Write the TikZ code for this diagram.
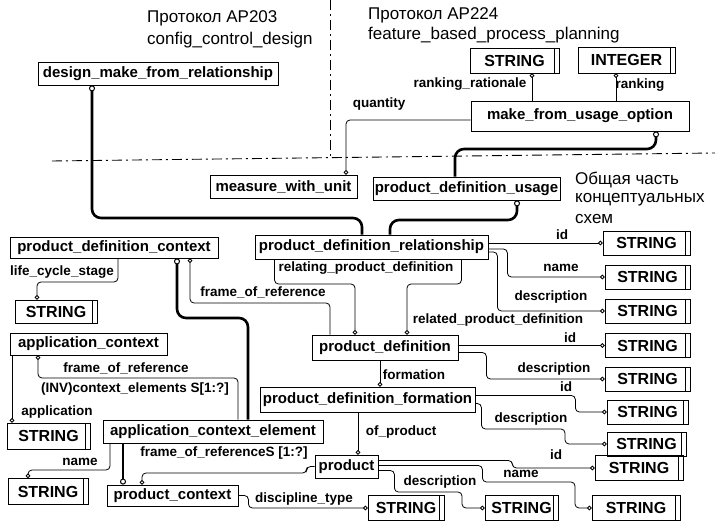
\documentclass[tikz,border=0pt]{standalone}
\usepackage{fontspec}
\setmainfont{Liberation Sans}
\usetikzlibrary{arrows.meta}
\begin{document}
\begin{tikzpicture}[x=1pt,y=-1pt,
 ent/.style={draw=black, line width=0.8pt, inner sep=0pt, font=\bfseries\fontsize{15}{17}\selectfont},
 stype/.style={ent, font=\bfseries\fontsize{16}{18}\selectfont, path picture={\draw[line width=0.8pt] ([xshift=-5pt]path picture bounding box.north east) -- ([xshift=-5pt]path picture bounding box.south east);}},
 lbl/.style={inner sep=0pt, font=\bfseries\fontsize{13.5}{15}\selectfont},
 head/.style={anchor=west, inner sep=0pt, font=\fontsize{17}{20}\selectfont},
 rel/.style={line width=0.8pt, rounded corners=4pt, -{Circle[open,length=4.5pt,line width=0.8pt]}},
 sup/.style={line width=2.6pt, rounded corners=9pt, -{Circle[open,length=6pt,line width=1pt]}},
 sep/.style={line width=0.9pt, dash pattern=on 10pt off 4pt on 2pt off 4pt}
]
\fill[white] (0,0) rectangle (715,529);
\useasboundingbox (0,0) rectangle (715,529);

% separators
\draw[sep] (52,161) -- (715,153);
\draw[sep] (330,0) -- (330,157);

% headings
\node[head] (h1) at (147,18) {Протокол AP203};
\node[head] (h2) at (147,40) {config\_control\_design};
\node[head] (h3) at (368,15) {Протокол AP224};
\node[head] (h4) at (368,35) {feature\_based\_process\_planning};
\node[head] (h5) at (575,180) {Общая часть};
\node[head] (h6) at (575,200) {концептуальных};
\node[head] (h7) at (575,219) {схем};

% entities
\node[ent, minimum width=240pt, minimum height=23pt] (dmfr) at (158,73.5) {design\_make\_from\_relationship};
\node[ent, minimum width=218pt, minimum height=30pt] (mfuo) at (580,116) {make\_from\_usage\_option};
\node[ent, minimum width=147pt, minimum height=23pt] (mwu) at (283.5,186.5) {measure\_with\_unit};
\node[ent, minimum width=187pt, minimum height=23pt] (pdu) at (466.5,188.5) {product\_definition\_usage};
\node[ent, minimum width=208pt, minimum height=21pt] (pdc) at (114,247.5) {product\_definition\_context};
\node[ent, minimum width=233pt, minimum height=24pt] (pdr) at (371.5,247) {product\_definition\_relationship};
\node[ent, minimum width=157pt, minimum height=22pt] (ac) at (88.5,344) {application\_context};
\node[ent, minimum width=146pt, minimum height=25pt] (pd) at (385,347.5) {product\_definition};
\node[ent, minimum width=215pt, minimum height=25pt] (pdf) at (367.5,399.5) {product\_definition\_formation};
\node[ent, minimum width=220pt, minimum height=23pt] (ace) at (213,431.5) {application\_context\_element};
\node[ent, minimum width=63pt, minimum height=23pt] (prod) at (346.5,466.5) {product};
\node[ent, minimum width=131pt, minimum height=21pt] (pc) at (172.5,495.5) {product\_context};

% simple types
\node[stype, minimum width=89pt, minimum height=25pt] (sTop) at (514.5,60.5) {STRING};
\node[stype, minimum width=97pt, minimum height=26pt] (iTop) at (626.5,60) {INTEGER};
\node[stype, minimum width=82pt, minimum height=23pt] (sL1) at (56,311.5) {STRING};
\node[stype, minimum width=83pt, minimum height=26pt] (sL2) at (48.5,436) {STRING};
\node[stype, minimum width=80pt, minimum height=26pt] (sL3) at (48,491.5) {STRING};
\node[stype, minimum width=87pt, minimum height=24pt] (sR1) at (646.5,243) {STRING};
\node[stype, minimum width=85pt, minimum height=24pt] (sR2) at (647.5,277) {STRING};
\node[stype, minimum width=85pt, minimum height=24pt] (sR3) at (647.5,311) {STRING};
\node[stype, minimum width=85pt, minimum height=24pt] (sR4) at (647.5,345.5) {STRING};
\node[stype, minimum width=85pt, minimum height=24pt] (sR5) at (647.5,379) {STRING};
\node[stype, minimum width=81pt, minimum height=24pt] (sR6) at (647.5,412) {STRING};
\node[stype, minimum width=79pt, minimum height=24pt] (sR7) at (646.5,444) {STRING};
\node[stype, minimum width=88pt, minimum height=25pt] (sR8) at (639,468) {STRING};
\node[stype, minimum width=76pt, minimum height=25pt] (sB1) at (406,508) {STRING};
\node[stype, minimum width=73pt, minimum height=25pt] (sB2) at (521.5,508) {STRING};
\node[stype, minimum width=88pt, minimum height=25pt] (sB3) at (636,508) {STRING};

% labels
\node[lbl] (l1) at (470,84) {ranking\_rationale};
\node[lbl] (l2) at (640,85) {ranking};
\node[lbl] (l3) at (379,104) {quantity};
\node[lbl] (l4) at (562,235) {id};
\node[lbl] (l5) at (62,272) {life\_cycle\_stage};
\node[lbl] (l6) at (366,268) {relating\_product\_definition};
\node[lbl] (l7) at (561,268) {name};
\node[lbl] (l8) at (263,292) {frame\_of\_reference};
\node[lbl] (l9) at (551,297) {description};
\node[lbl] (l10) at (498,320) {related\_product\_definition};
\node[lbl] (l11) at (570,338) {id};
\node[lbl] (l12) at (126,368) {frame\_of\_reference};
\node[lbl] (l13) at (414,375) {formation};
\node[lbl] (l14) at (554,369) {description};
\node[lbl] (l15) at (135,389) {(INV)context\_elements S[1:?]};
\node[lbl] (l16) at (566,387) {id};
\node[lbl] (l17) at (57,412) {application};
\node[lbl] (l18) at (531,419) {description};
\node[lbl] (l19) at (401,432) {of\_product};
\node[lbl] (l20) at (224,453) {frame\_of\_referenceS [1:?]};
\node[lbl] (l21) at (556,455) {id};
\node[lbl] (l22) at (80,462) {name};
\node[lbl] (l23) at (521,474) {name};
\node[lbl] (l24) at (440,482) {description};
\node[lbl] (l25) at (304,499) {discipline\_type};

% supertype/subtype (thick)
\draw[sup] ([xshift=-9.5pt]pdr.north) |- (92,218) -- ([xshift=-66pt]dmfr.south);
\draw[sup] ([xshift=18.5pt]pdr.north) |- (517,220) -- ([xshift=50.5pt]pdu.south);
\draw[sup] ([xshift=-11.5pt]pdu.north) |- (656,149) -- ([xshift=76pt]mfuo.south);
\draw[sup] ([xshift=35pt]ace.north) |- (177,318) -- ([xshift=63pt]pdc.south);
\draw[sup] ([xshift=-90pt]ace.south) -- ([xshift=-49.5pt]pc.north);

% attributes
\draw[rel] ([yshift=-4pt]mfuo.west) -| ([xshift=62.5pt]mwu.north);
\draw[rel] ([xshift=-48pt]mfuo.north) -- ([xshift=17.5pt]sTop.south);
\draw[rel] ([xshift=36pt]mfuo.north) -- ([xshift=-10.5pt]iTop.south);

\draw[rel] ([yshift=4pt]pdr.east) -- (sR1.west);
\draw[rel] ([yshift=-2pt]pdr.east) -- ++(19,0) |- (sR2.west);
\draw[rel] ([yshift=-5pt]pdr.east) -- ++(9,0) |- (sR3.west);
\draw[rel] ([xshift=-97pt]pdr.south) |- (355,284) -- ([xshift=-30pt]pd.north);
\draw[rel] ([xshift=90pt]pdr.south) |- (407,284) -- ([xshift=22pt]pd.north);
\draw[rel] ([xshift=-55pt]pd.north) |- (190,303) -- ([xshift=76pt]pdc.south);

\draw[rel] ([yshift=2pt]pd.east) -- (sR4.west);
\draw[rel] ([yshift=-5pt]pd.east) -- ++(28,0) |- (sR5.west);
\draw[rel] ([xshift=-5pt]pd.south) -- ([xshift=12.5pt]pdf.north);

\draw[rel] ([yshift=4pt]pdf.east) -- ++(100,0) |- (sR6.west);
\draw[rel] ([yshift=-4pt]pdf.east) -- ++(6,0) |- (565,429) |- (sR7.west);
\draw[rel] ([xshift=-9.5pt]pdf.south) -- ([xshift=11.5pt]prod.north);

\draw[rel] ([yshift=6pt]prod.east) -- ++(134,0) |- (sR8.west);
\draw[rel] ([yshift=1pt]prod.east) -- ++(104,0) |- (575,482) |- (sB3.west);
\draw[rel] ([yshift=-4pt]prod.east) -- ++(16,0) |- (462,492) |- (sB2.west);
\draw[rel] (prod.west) -- ++(-8,0) |- (142,473) -- ([xshift=-30.5pt]pc.north);
\draw[rel] (pc.east) -- ++(10,0) |- (sB1.west);

\draw[rel] ([xshift=4pt]pdc.south) |- (37,282) -- ([xshift=-19pt]sL1.north);
\draw[rel] ([xshift=25pt]ace.north) |- (38,378) -- ([xshift=-50.5pt]ac.south);
\draw[rel] ([xshift=-76.5pt]ac.south) -- ([xshift=-36.5pt]sL2.north);
\draw[rel] ([xshift=-103pt]ace.south) |- (28,470) -- ([xshift=-20pt]sL3.north);
\end{tikzpicture}
\end{document}
